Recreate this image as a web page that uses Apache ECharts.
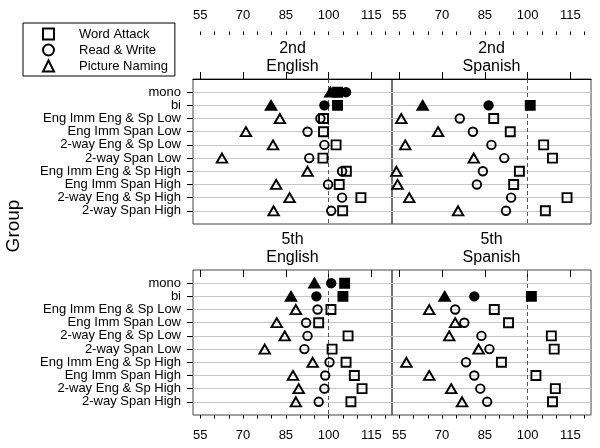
<!DOCTYPE html>
<html>
<head>
<meta charset="utf-8">
<script src="https://cdn.jsdelivr.net/npm/echarts@6/dist/echarts.min.js"></script>
<style>html,body{margin:0;padding:0;background:#fff;}#c{width:600px;height:448px;}</style>
</head>
<body>
<div id="c"></div>
<script>
// ---- data ----
const categories = ['mono', 'bi', 'Eng Imm Eng & Sp Low', 'Eng Imm Span Low', '2-way Eng & Sp Low',
  '2-way Span Low', 'Eng Imm Eng & Sp High', 'Eng Imm Span High', '2-way Eng & Sp High', '2-way Span High'];
const filledGroups = ['mono', 'bi'];
const measures = ['Word Attack', 'Read & Write', 'Picture Naming'];
const gradeLabels = ['2nd', '5th'];
const languageLabels = ['English', 'Spanish'];
const xTickLabels = [55, 70, 85, 100, 115];
const xMinorTicks = [55, 60, 65, 70, 75, 80, 85, 90, 95, 100, 105, 110, 115, 120];
const referenceValue = 100;

// 2nd grade, English
const g2EngWordAttack = [103.1, 103.1, 98.2, 98.2, 102.6, 98.0, 106.2, 103.7, 111.3, 104.9];
const g2EngReadWrite = [106.1, 98.5, 97.1, 92.6, 98.5, 93.2, 104.7, 99.8, 104.7, 100.9];
const g2EngPicture = [100.6, 79.8, 82.9, 71.0, 80.5, 62.6, 92.6, 81.6, 86.3, 80.7];
// 2nd grade, Spanish
const g2SpaWordAttack = [null, 100.9, 88.1, 93.9, 105.6, 108.7, 97.1, 95.1, 113.8, 106.2];
const g2SpaReadWrite = [null, 86.3, 76.2, 80.8, 87.3, 91.8, 84.3, 82.2, 94.2, 92.4];
const g2SpaPicture = [null, 63.2, 55.7, 68.6, 57.1, 81.1, 54.0, 54.4, 58.5, 75.6];
// 5th grade, English
const g5EngWordAttack = [105.6, 105.0, 100.8, 96.5, 106.8, 101.2, 106.1, 109.0, 111.7, 107.8];
const g5EngReadWrite = [100.9, 95.7, 96.1, 92.1, 92.6, 91.5, 100.3, 98.8, 98.5, 96.5];
const g5EngPicture = [95.0, 86.8, 88.5, 81.8, 84.6, 77.6, 94.4, 87.5, 89.5, 88.5];
// 5th grade, Spanish
const g5SpaWordAttack = [null, 101.3, 88.3, 93.3, 108.3, 109.3, 90.8, 102.9, 109.7, 108.7];
const g5SpaReadWrite = [null, 81.3, 74.6, 77.8, 83.8, 86.6, 78.4, 81.3, 83.4, 85.8];
const g5SpaPicture = [null, 70.9, 65.5, 74.6, 72.5, 82.8, 57.5, 65.5, 73.2, 77.0];

const panels = [
  { grade: 0, lang: 0, vals: [g2EngWordAttack, g2EngReadWrite, g2EngPicture] },
  { grade: 0, lang: 1, vals: [g2SpaWordAttack, g2SpaReadWrite, g2SpaPicture] },
  { grade: 1, lang: 0, vals: [g5EngWordAttack, g5EngReadWrite, g5EngPicture] },
  { grade: 1, lang: 1, vals: [g5SpaWordAttack, g5SpaReadWrite, g5SpaPicture] }
];

// ---- layout / style ----
const FONT = 'Liberation Sans, Arial, Helvetica, sans-serif';
const X_MIN = 52.45, X_MAX = 122.2;
const gridBoxes = [
  { left: 193, top: 79, width: 199, height: 145 },
  { left: 392, top: 79, width: 199, height: 145 },
  { left: 193, top: 270, width: 199, height: 145 },
  { left: 392, top: 270, width: 199, height: 145 }
];
const symbols = ['rect', 'circle', 'triangle'];
const symbolSizes = [9, 8.5, [10.5, 9]];
const rowIdx = categories.map((c, i) => i + 1);

const grid = gridBoxes.map(b => Object.assign({ show: true, borderColor: '#444', borderWidth: 1, backgroundColor: 'transparent' }, b));

const xAxis = [];
gridBoxes.forEach((b, gi) => {
  const isTop = gi < 2;
  const base = {
    gridIndex: gi, type: 'value', min: X_MIN, max: X_MAX,
    position: isTop ? 'top' : 'bottom', offset: isTop ? 44 : 0,
    splitLine: { show: false }
  };
  xAxis.push(Object.assign({}, base, {
    axisLine: { show: isTop, lineStyle: { color: '#000', width: 1 } },
    axisTick: { show: true, inside: false, length: 7, customValues: xTickLabels, lineStyle: { color: '#000', width: 1 } },
    axisLabel: { show: true, customValues: xTickLabels, margin: isTop ? 13 : 14, color: '#000', fontSize: 13, fontFamily: FONT }
  }));
  xAxis.push(Object.assign({}, base, {
    axisLine: { show: false },
    axisTick: { show: true, inside: false, length: 3.5, customValues: xMinorTicks, lineStyle: { color: '#000', width: 1 } },
    axisLabel: { show: false }
  }));
});

const yAxis = gridBoxes.map((b, gi) => {
  const isLeft = gi % 2 === 0;
  return {
    gridIndex: gi, type: 'value', min: 0, max: categories.length + 1, interval: 1, inverse: true,
    axisLine: { show: false },
    splitLine: { show: true, lineStyle: { color: '#c6c6c6', width: 1 } },
    axisTick: { show: isLeft, inside: false, length: 6, customValues: rowIdx, lineStyle: { color: '#000' } },
    axisLabel: {
      show: isLeft, customValues: rowIdx, margin: 12, color: '#000', fontSize: 13, fontFamily: FONT,
      formatter: v => categories[Math.round(v) - 1] || ''
    }
  };
});

const series = [];
panels.forEach((p, gi) => {
  p.vals.forEach((arr, mi) => {
    const data = [];
    arr.forEach((v, i) => {
      if (v == null) return;
      const filled = filledGroups.indexOf(categories[i]) >= 0;
      const d = { value: [v, i + 1] };
      if (filled) d.itemStyle = { color: '#000', borderColor: '#000' };
      data.push(d);
    });
    const s = {
      name: measures[mi], type: 'scatter', xAxisIndex: gi * 2, yAxisIndex: gi,
      symbol: symbols[mi], symbolSize: symbolSizes[mi],
      itemStyle: { color: 'rgba(0,0,0,0)', borderColor: '#000', borderWidth: 1.9, opacity: 1 },
      emphasis: { disabled: true },
      data: data, z: 3
    };
    if (mi === 0) {
      s.markLine = {
        silent: true, symbol: 'none', animation: false,
        label: { show: false },
        lineStyle: { type: [4, 3], color: '#555', width: 1 },
        data: [{ xAxis: referenceValue }], z: 2
      };
    }
    series.push(s);
  });
});

const graphic = [];
panels.forEach((p, gi) => {
  const b = gridBoxes[gi];
  const cx = b.left + b.width / 2;
  graphic.push({ type: 'text', x: cx, y: b.top - 30.5, style: { text: gradeLabels[p.grade], font: '16px ' + FONT, fill: '#000', textAlign: 'center', textVerticalAlign: 'middle', verticalAlign: 'middle' } });
  graphic.push({ type: 'text', x: cx, y: b.top - 12, style: { text: languageLabels[p.lang], font: '16px ' + FONT, fill: '#000', textAlign: 'center', textVerticalAlign: 'middle', verticalAlign: 'middle' } });
});
graphic.push({ type: 'text', x: 14, y: 226, rotation: Math.PI / 2, style: { text: 'Group', font: '19px ' + FONT, fill: '#000', textAlign: 'center', textVerticalAlign: 'middle', verticalAlign: 'middle' } });

const chart = echarts.init(document.getElementById('c'), null, { renderer: 'canvas' });
chart.setOption({
  animation: false,
  backgroundColor: '#fff',
  grid: grid,
  xAxis: xAxis,
  yAxis: yAxis,
  legend: {
    data: measures, orient: 'vertical', left: 23, top: 23,
    itemWidth: 11, itemHeight: 11, itemGap: 0,
    padding: [3, 7, 2, 19], borderColor: '#000', borderWidth: 1,
    selectedMode: false,
    textStyle: { fontSize: 13, fontFamily: FONT, color: '#000', lineHeight: 16, padding: [0, 0, 0, 20] }
  },
  series: series,
  graphic: graphic
});
</script>
</body>
</html>
